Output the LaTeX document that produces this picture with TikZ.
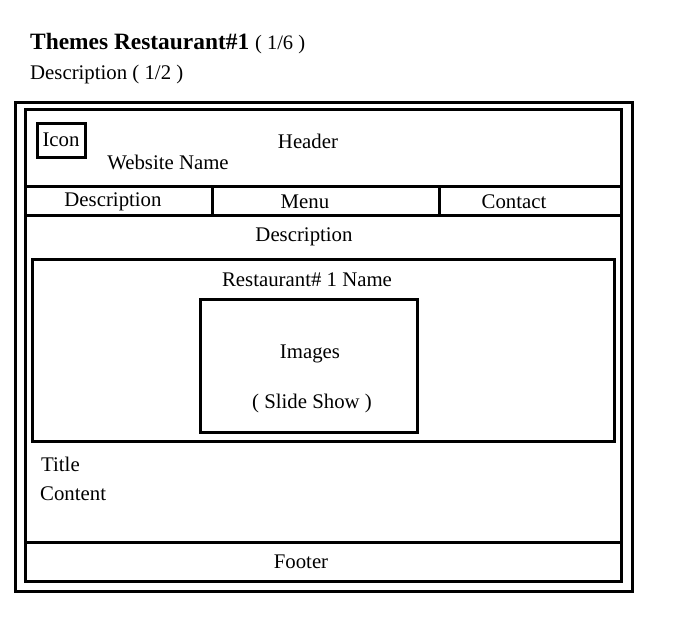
\documentclass[tikz,border=0pt]{standalone}
\usepackage{fontspec}
\setmainfont{Liberation Serif}
\begin{document}
\begin{tikzpicture}[x=1pt,y=-1pt,
  frame/.style={draw=black,line width=3pt},
  lbl/.style={inner sep=0pt,font=\fontsize{20.8}{24}\selectfont},
  lbll/.style={lbl,anchor=west}]
\useasboundingbox (0,0) rectangle (676,643);
% title
\node[anchor=west,inner sep=0pt] (ttl) at (30,44) {\fontsize{23.4}{27}\selectfont\textbf{Themes Restaurant\#1} \fontsize{20.5}{24}\selectfont( 1/6 )};
\node[lbll] (sub) at (30,74) {Description ( 1/2 )};
% frames
\draw[frame] (15.5,102.5) rectangle (632.5,591.5);
\draw[frame] (25.5,109.5) rectangle (621.5,581.5);
\draw[frame] (25.5,186) -- (621.5,186);
\draw[frame] (25.5,215.5) -- (621.5,215.5);
\draw[frame] (212.5,186) -- (212.5,215.5);
\draw[frame] (439.5,186) -- (439.5,215.5);
\draw[frame] (37,123) rectangle (85,157);
\draw[frame] (32.5,259) rectangle (614.5,441);
\draw[frame] (200.5,299.5) rectangle (417.5,432);
\draw[frame] (25.5,542.5) -- (621.5,542.5);
% labels
\node[lbl] (icon) at (61,140) {Icon};
\node[lbl] (web) at (168,162) {Website Name};
\node[lbl] (hdr) at (308,141) {Header};
\node[lbl] (nd) at (113,201.5) {Description};
\node[lbl] (nm) at (305,202) {Menu};
\node[lbl] (nc) at (514,202) {Contact};
\node[lbl] (desc) at (304,237) {Description};
\node[lbl] (rname) at (307,280) {Restaurant\# 1 Name};
\node[lbl] (img) at (310,354) {Images};
\node[lbl] (slide) at (312,403) {( Slide Show )};
\node[lbll] (title) at (41,464) {Title};
\node[lbll] (cont) at (40,494) {Content};
\node[lbl] (foot) at (301,562) {Footer};
\end{tikzpicture}
\end{document}
